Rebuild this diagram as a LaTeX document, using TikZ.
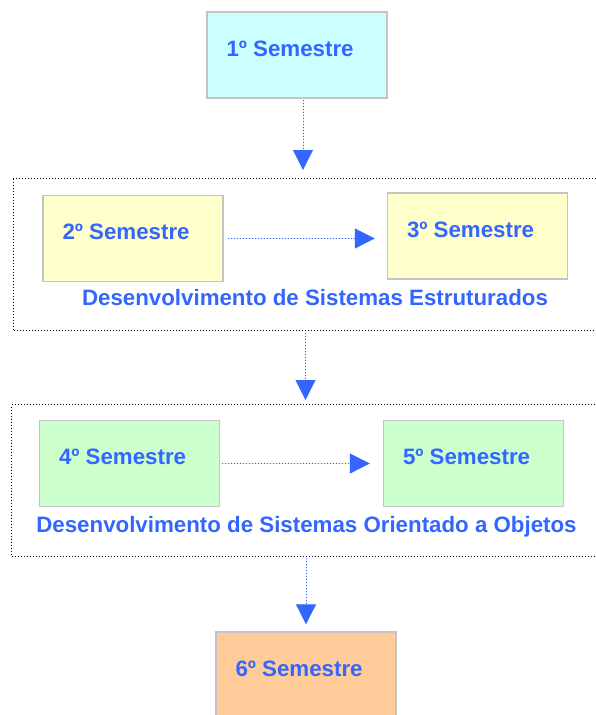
\documentclass[tikz,border=0pt]{standalone}
\usepackage{fontspec}
\setmainfont{Liberation Sans}
\usepackage{tikz}
\usepackage{xcolor}
\usetikzlibrary{arrows.meta}
\definecolor{semblue}{HTML}{3366FF}
\definecolor{semcyan}{HTML}{CCFFFF}
\definecolor{semyellow}{HTML}{FFFFCC}
\definecolor{semgreen}{HTML}{CCFFCC}
\definecolor{semorange}{HTML}{FFCC99}
\definecolor{semgray}{HTML}{C4C4C4}
\tikzset{
    sem-box/.style = {draw=semgray, line width=1.4pt, rectangle, minimum width=180pt, minimum height=86pt, inner sep=0pt},
    sem-text/.style = {anchor=base west, text=semblue, font=\fontsize{22.3}{26}\selectfont\bfseries, inner sep=0pt},
    group-frame/.style = {draw=black, dotted, line width=1pt, rectangle, anchor=north west, inner sep=0pt},
    group-title/.style = {anchor=base, text=semblue, font=\fontsize{22.3}{26}\selectfont\bfseries, inner sep=0pt},
    flow-arrow/.style = {draw=semblue, dotted, line width=1pt, -{Triangle[width=20pt,length=20pt]}, fill=semblue},
}

\begin{document}
\begin{tikzpicture}[x=1pt, y=-1pt]
\useasboundingbox (0,0) rectangle (595,715);
\node[group-frame, minimum width=587pt, minimum height=152pt] (estrut) at (13,178) {};
\node[group-frame, minimum width=589pt, minimum height=152pt] (orient) at (11,404) {};
\node[sem-box, fill=semcyan] (sem1) at (297,55) {};
\node[sem-box, fill=semyellow] (sem2) at (133,238.5) {};
\node[sem-box, fill=semyellow] (sem3) at (477.5,236) {};
\node[sem-box, fill=semgreen] (sem4) at (129.5,463.5) {};
\node[sem-box, fill=semgreen] (sem5) at (473.5,463.5) {};
\node[sem-box, fill=semorange, minimum height=90pt] (sem6) at (306,677) {};
\foreach \n in {1,...,6}
    \node[sem-text] at ([xshift=20pt, yshift=-45pt]sem\n.north west) {\n º Semestre};
\node[group-title] (titulo-estrut) at (315,305) {Desenvolvimento de Sistemas Estruturados};
\node[group-title] (titulo-orient) at (306.5,532) {Desenvolvimento de Sistemas Orientado a Objetos};
\draw[flow-arrow, shorten <=1pt, shorten >=8pt] ([xshift=6pt]sem1.south) -- ([xshift=6pt]sem1.south |- estrut.north);
\draw[flow-arrow, shorten <=4pt, shorten >=12pt] (sem2.east) -- (sem2.east -| sem3.west);
\draw[flow-arrow, shorten <=2pt, shorten >=4pt] ([xshift=-1.5pt]estrut.south) -- ([xshift=-1.5pt]estrut.south |- orient.north);
\draw[flow-arrow, shorten <=2pt, shorten >=13pt] (sem4.east) -- (sem4.east -| sem5.west);
\draw[flow-arrow, shorten <=1pt, shorten >=7pt] (orient.south) -- (orient.south |- sem6.north);
\end{tikzpicture}
\end{document}
